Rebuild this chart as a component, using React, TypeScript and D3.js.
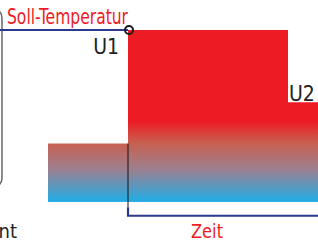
import {useEffect, useRef} from "react";
import * as d3 from "d3";

const SvgWidth = 318;
const SvgHeight = 243;

// phases of the heating curve (time units, level in % of soll)
const phaseNames = ["Start", "U1", "U2"];
const phaseStart = [0, 5, 15];
const phaseEnd = [5, 15, 17];
const phaseLevel = [34, 100, 58];

const sollTemp = 100;
const sollLabel = "Soll-Temperatur";
const timeLabel = "Zeit";
const cutLabel = "nt";

const redColor = "#ed1c24";
const blueColor = "#29abe2";
const lineBlue = "#2b3a8c";
const fontFam = "'Liberation Sans Narrow', 'DejaVu Sans Condensed', 'Liberation Sans', sans-serif";

function App(){
    const barsRef = useRef(null);

    const xScale = d3.scaleLinear()
        .domain([0, 17])
        .range([48, 320]);

    const yScale = d3.scaleLinear()
        .domain([0, 100])
        .range([202, 30]);

    useEffect(() => {
        let barsElm = d3.select(barsRef.current);
        let data = phaseNames.map((n, i) => ({name: n, start: phaseStart[i], end: phaseEnd[i], level: phaseLevel[i]}));

        barsElm.selectAll("rect")
            .data(data)
            .join("rect")
            .attr("x", d => xScale(d.start))
            .attr("y", d => yScale(d.level))
            .attr("width", d => xScale(d.end) - xScale(d.start))
            .attr("height", d => yScale(0) - yScale(d.level))
            .attr("fill", "url(#heatGrad)");
    }, [xScale, yScale])

    let u1x = xScale(phaseStart[1]);
    let u2x = xScale(phaseStart[2]);
    let sollY = yScale(sollTemp);

    return (
        <div>
            <svg width={SvgWidth} height={SvgHeight} style={{position: "absolute", left: 0, top: 0}}>
                <defs>
                    <linearGradient id="heatGrad" gradientUnits="userSpaceOnUse" x1={0} x2={0} y1={yScale(47)} y2={yScale(0)}>
                        <stop offset="0" stopColor={redColor} />
                        <stop offset="0.27" stopColor="#c8604f" />
                        <stop offset="0.6" stopColor="#9c8090" />
                        <stop offset="0.97" stopColor={blueColor} />
                        <stop offset="1" stopColor={blueColor} />
                    </linearGradient>
                </defs>

                <rect x={-200} y={8} width={202} height={180} rx={10} fill="none" stroke="#666" strokeWidth={1.5} />

                <g ref={barsRef}></g>

                {/* soll-temperatur line */}
                <line x1={0} x2={u1x} y1={sollY} y2={sollY} stroke={lineBlue} strokeWidth={2} />
                <circle cx={u1x + 1} cy={sollY} r={4} fill="none" stroke="#1a1a1a" strokeWidth={2} />

                {/* start marker and time axis */}
                <line x1={u1x} x2={u1x} y1={yScale(phaseLevel[0])} y2={yScale(-3)} stroke="#111" strokeWidth={1} />
                <path
                    d={`M${u1x},${yScale(-3)}V${yScale(-8)}H${SvgWidth}`}
                    fill="none"
                    stroke={lineBlue}
                    strokeWidth={2.2}
                />

                <text x={7} y={24} fontSize={21} fill={redColor} fontFamily={fontFam}
                      textLength={121} lengthAdjust="spacingAndGlyphs">
                    {sollLabel}
                </text>
                <text x={u1x - 9} y={54} fontSize={21} fill="#222" fontFamily={fontFam} textAnchor="end">
                    {phaseNames[1]}
                </text>
                <text x={u2x + 1} y={101} fontSize={21} fill="#222" fontFamily={fontFam}>
                    {phaseNames[2]}
                </text>
                <text x={191} y={238} fontSize={20} fill={redColor} fontFamily={fontFam}
                      textLength={32} lengthAdjust="spacingAndGlyphs">
                    {timeLabel}
                </text>
                <text x={17} y={238} fontSize={20} fill="#222" fontFamily={fontFam} textAnchor="end">
                    {cutLabel}
                </text>
            </svg>
        </div>
    )
}

export default App;
